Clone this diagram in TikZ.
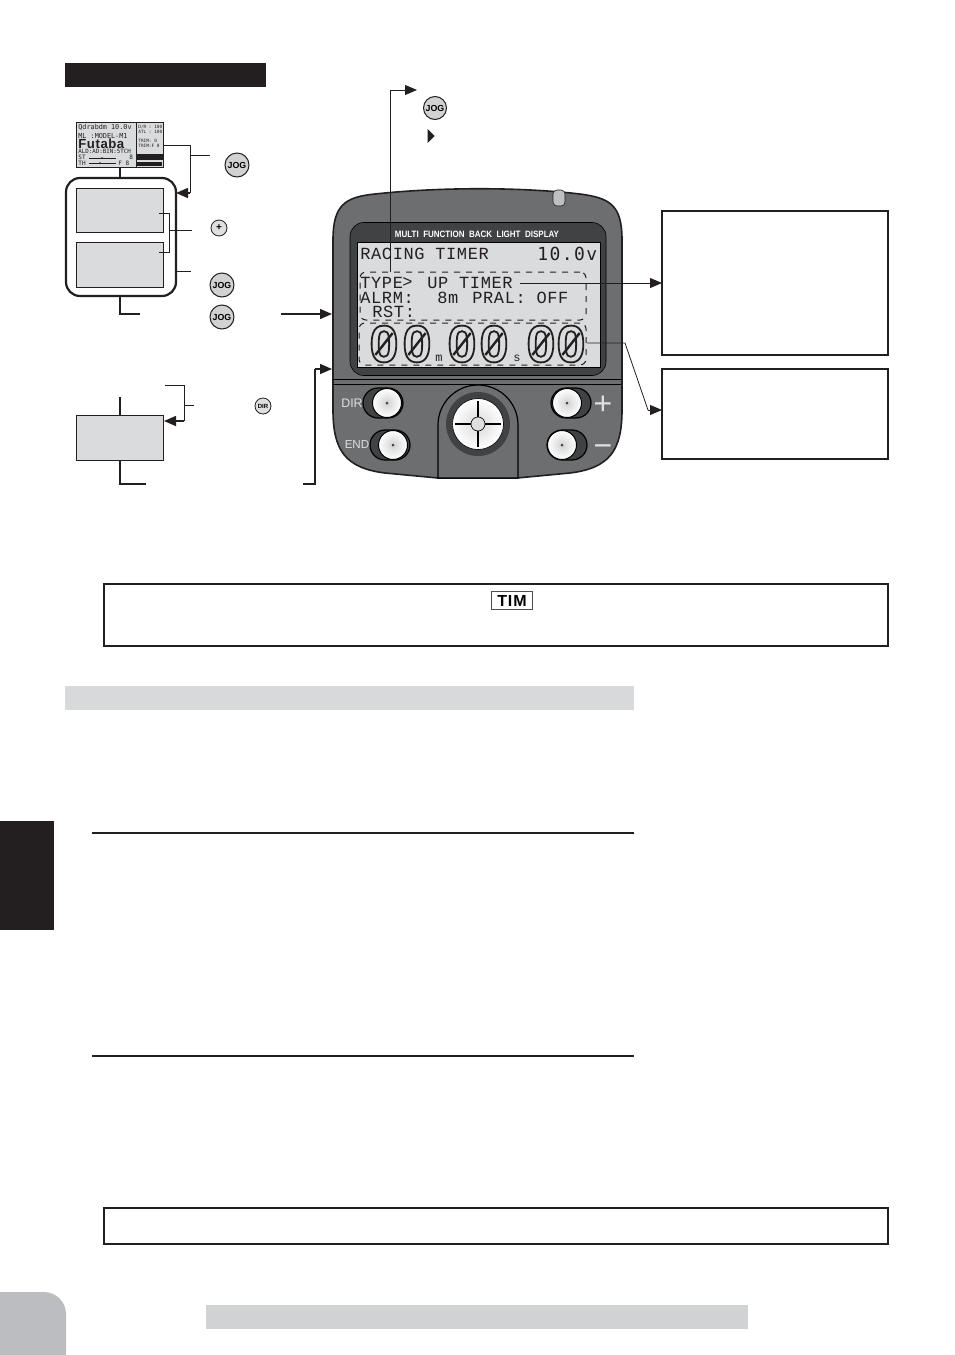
\documentclass[tikz,border=0pt]{standalone}
\usepackage{fontspec}
\setmainfont{Liberation Sans}
\newfontfamily\lcdfont[LetterSpace=3.5]{Liberation Mono}
\newfontfamily\microfont{DejaVu Sans Mono}
\newfontfamily\narrowfont[FakeStretch=0.87]{Liberation Sans}
\usetikzlibrary{arrows.meta, positioning, shapes, backgrounds}

\definecolor{bodygray}{HTML}{6D6E70}
\definecolor{bezelgray}{HTML}{414244}
\definecolor{screengray}{HTML}{DADBDC}
\definecolor{tabgray}{HTML}{BCBDC0}
\definecolor{bargray}{HTML}{D1D2D4}
\definecolor{inkblack}{HTML}{231F20}
\newcommand{\hollowtext}[1]{\special{pdf:code 1 Tr 0.9 w}#1\special{pdf:code 0 Tr 1 w}}

\begin{document}
\begin{tikzpicture}[
    x=0.5pt, y=-0.5pt,
    graybox/.style={rectangle, draw=inkblack, line width=0.4pt, fill=screengray, minimum width=43.5pt, minimum height=22.5pt, inner sep=0pt},
    jogbtn/.style={circle, draw=inkblack, line width=0.5pt, fill=gray!35, minimum size=12pt, inner sep=0pt, font=\fontsize{4.4}{5}\selectfont\bfseries},
    smallbtn/.style={circle, draw=inkblack, line width=0.4pt, fill=gray!25, minimum size=8pt, inner sep=0pt, font=\fontsize{3}{4}\selectfont\bfseries},
    notebox/.style={rectangle, draw=inkblack, line width=1.25pt, fill=white, inner sep=0pt},
    infobox/.style={rectangle, draw=inkblack, line width=1.25pt, fill=white, inner sep=0pt, minimum width=113pt},
    bar/.style={rectangle, fill=bargray, inner sep=0pt, minimum height=12pt},
    lcdtext/.style={anchor=west, inner sep=0pt, text=inkblack, font=\lcdfont\fontsize{8.5}{8.5}\selectfont},
    minitext/.style={anchor=west, inner sep=0pt, text=inkblack, font=\microfont\fontsize{3.4}{3.4}\selectfont},
    sidetext/.style={anchor=west, inner sep=0pt, text=inkblack, font=\microfont\fontsize{2.2}{2.2}\selectfont},
    bigdigit/.style={inner sep=0pt, text=inkblack, font=\fontsize{26}{26}\selectfont\bfseries},
    line/.style={draw=inkblack, line width=0.5pt},
    heavyline/.style={draw=inkblack, line width=0.8pt},
    ruleline/.style={draw=inkblack, line width=1pt},
    arrow/.style={draw=inkblack, line width=0.7pt, -{Triangle[length=6pt, width=5pt]}},
    keycap/.style={circle, draw=black, line width=0.5pt, inner color=gray!35, outer color=white, minimum size=14.5pt, inner sep=0pt},
    keyslot/.style={rounded corners=7.5pt, draw=black, line width=0.6pt, fill=bezelgray},
    crosshair/.style={black, line width=0.6pt, shorten >=1.5pt}
]
\useasboundingbox (0,0) rectangle (954,1355);

% ==== Page furniture ====
\node[rectangle, fill=inkblack, inner sep=0pt, minimum width=100.5pt, minimum height=12pt] (titlebar) at (165.5,75) {};
\node[bar, fill=bargray!85, minimum width=284.5pt] (sectionbar) at (349.5,698) {};
\node[bar, minimum width=271pt] (footbar) at (477,1317) {};
\node[rectangle, fill=inkblack, inner sep=0pt, minimum width=27pt, minimum height=54.5pt] (sidetab) at (27,875.5) {};
\fill[tabgray] (0,1292) -- (44,1292) arc[start angle=90, end angle=0, radius=11pt] -- (66,1355) -- (0,1355) -- cycle;
\node[notebox, minimum width=392pt, minimum height=31pt] (noteone) at (496,615) {};
\node[notebox, minimum width=392pt, minimum height=18pt] (notetwo) at (496,1226) {};
\node[rectangle, draw=inkblack!80, line width=0.7pt, fill=white, inner sep=0pt, minimum width=20.5pt, minimum height=9pt, font=\fontsize{8}{8}\selectfont\bfseries\addfontfeature{LetterSpace=6}] (timtag) at (512,600.5) {TIM};
\coordinate (ruleonel) at (92,832.5);
\coordinate (ruleoner) at (634,832.5);
\coordinate (ruletwol) at (92,1055.5);
\coordinate (ruletwor) at (634,1055.5);
\draw[ruleline] (ruleonel) -- (ruleoner);
\draw[ruleline] (ruletwol) -- (ruletwor);

% ==== Small screen at the top ====
\node[graybox, minimum height=22.5pt] (minilcd) at (120,144.5) {};
\node[minitext] (mininame) at (78,127) {Qdrabdm 10.0v};
\node[minitext] (minimodel) at (78,136) {ML :MODEL-M1};
\node[anchor=west, inner sep=0pt, text=inkblack, font=\fontsize{6.6}{6.6}\selectfont\bfseries\addfontfeature{LetterSpace=4}] (minilogo) at (78,144) {Futaba};
\node[minitext, font=\microfont\fontsize{2.9}{2.9}\selectfont] (minimode) at (78,151.5) {ALD:AD:BIN:5TCH};
\node[minitext, font=\microfont\fontsize{3}{3}\selectfont] (minist) at (78,157) {ST};
\node[minitext, font=\microfont\fontsize{3}{3}\selectfont] (minith) at (78,163) {TH};
\node[sidetext] (minidr) at (138,127) {D/R : 100};
\node[sidetext] (miniatl) at (138,132) {ATL : 100};
\node[sidetext] (minitrima) at (138,141) {TRIM:   0};
\node[sidetext] (minitrimb) at (138,146) {TRIM:F  0};
\draw[line, line width=0.3pt] (136,122) -- (136,167);
\fill[inkblack] (136,154) rectangle (163,160);
\fill[inkblack] (137,162) rectangle (162,166);
\draw[line, line width=0.3pt] (89,158) -- (116,158);
\draw[line, line width=0.3pt] (89,163) -- (116,163);
\fill[inkblack] (102,158) circle (1);
\fill[inkblack] (100,163) circle (1);
\node[minitext, font=\microfont\fontsize{3}{3}\selectfont] (minithetaa) at (129,157) {8};
\node[minitext, font=\microfont\fontsize{3}{3}\selectfont] (minithetab) at (118,163) {F 8};

% ==== Mode frame with two panels ====
\node[rectangle, draw=inkblack, line width=1.1pt, rounded corners=7pt, fill=white, minimum width=55pt, minimum height=59pt, inner sep=0pt] (modeframe) at (121,237) {};
\node[graybox, minimum height=22pt] (panelup) at (120,210) {};
\node[graybox, below=5pt of panelup] (paneldown) {};
\node[graybox] (panelalarm) at (120,437.5) {};

% ==== Buttons ====
\node[jogbtn] (jogtop) at (237,165) {JOG};
\node[smallbtn, font=\fontsize{5}{5}\selectfont\bfseries] (plusbtn) at (219,228) {+};
\node[jogbtn] (jogenter) at (222,285) {JOG};
\node[jogbtn] (jogback) at (222,317) {JOG};
\node[smallbtn] (dirbtn) at (263,406) {DIR};
\node[jogbtn, minimum size=11.5pt] (jogmode) at (435,108) {JOG};
\node[isosceles triangle, isosceles triangle stretches, fill=inkblack, inner sep=0pt, minimum height=3.5pt, minimum width=7pt, shape border rotate=0] (cursor) at (430.5,136) {};

% ==== Transmitter body ====
\filldraw[fill=bodygray, draw=inkblack, line width=0.8pt] (333,240) .. controls (333,205) and (345,197) .. (375,194) .. controls (440,187) and (520,187) .. (580,194) .. controls (610,198) and (622,205) .. (622,240) -- (622,410) .. controls (622,450) and (610,468) .. (570,473) -- (517,478) -- (438,478) -- (385,473) .. controls (345,468) and (333,450) .. (333,410) -- cycle;
\node[rectangle, rounded corners=2pt, draw=inkblack, line width=0.3pt, fill=gray!50, minimum width=6pt, minimum height=8pt, inner sep=0pt] (ledwindow) at (559,198) {};
\node[rectangle, rounded corners=7pt, fill=bezelgray, draw=black, line width=0.3pt, minimum width=128pt, minimum height=76.5pt, inner sep=0pt] (bezel) at (478,299) {};
\node[rectangle, fill=screengray, draw=black, line width=0.3pt, minimum width=121.5pt, minimum height=62.5pt, inner sep=0pt] (screen) at (478.5,304.5) {};
\node[inner sep=0pt, text=white, font=\narrowfont\fontsize{4.6}{5}\selectfont\bfseries] (bodytitle) at (477,234) {MULTI\ \ FUNCTION\ \ BACK\ \ LIGHT\ \ DISPLAY};
\coordinate (seaml) at (334,384.5);
\coordinate (seamr) at (621,384.5);
\coordinate (seamtopl) at (334,379);
\coordinate (seamtopr) at (621,379);
\draw[draw=black, line width=0.5pt] (seaml) -- (seamr);
\draw[draw=black, line width=0.3pt] (seamtopl) -- (seamtopr);

% ==== Screen texts ====
\node[lcdtext] (racingtitle) at (360,254) {RACING TIMER};
\node[lcdtext, font=\microfont\fontsize{9}{9}\selectfont\addfontfeature{LetterSpace=8}] (voltage) at (537,254) {10.0v};
\node[lcdtext] (typelabel) at (360,283) {TYPE};
\node[lcdtext] (typecursor) at (402,283) {>};
\node[lcdtext] (typevalue) at (427,283) {UP TIMER};
\node[lcdtext] (alarmlabel) at (360,298) {ALRM:};
\node[lcdtext] (alarmvalue) at (437,298) {8m};
\node[lcdtext] (pralvalue) at (472,298) {PRAL: OFF};
\node[lcdtext] (rstlabel) at (372,312) {RST:};
\node[rectangle, draw=inkblack, dashed, line width=0.5pt, rounded corners=3pt, minimum width=113pt, minimum height=24pt, inner sep=0pt] (setupzone) at (473,296) {};
\node[rectangle, draw=inkblack, dashed, line width=0.5pt, rounded corners=3pt, minimum width=113.5pt, minimum height=21pt, inner sep=0pt] (timezone) at (472.5,344) {};
\foreach \dx/\dname in {384/a, 417/b, 462/c, 494/d, 541/e, 571/f} {
    \node[bigdigit] (digit\dname) at (\dx,344) {\hollowtext{0}};
    \draw[inkblack, line width=1.2pt, shorten <=5pt, shorten >=5pt] (digit\dname.south west) -- (digit\dname.north east);
}
\node[inner sep=0pt, text=inkblack, font=\lcdfont\fontsize{6}{6}\selectfont] (minutemark) at (439,358) {m};
\node[inner sep=0pt, text=inkblack, font=\lcdfont\fontsize{6}{6}\selectfont] (secondmark) at (517,358) {s};

% ==== Keys on the body ====
\node[keyslot, minimum width=20pt, minimum height=15pt, inner sep=0pt] (dirslot) at (383,403) {};
\node[keyslot, minimum width=20pt, minimum height=15pt, inner sep=0pt] (endslot) at (390,445) {};
\node[keyslot, minimum width=20pt, minimum height=15pt, inner sep=0pt] (plusslot) at (571,403) {};
\node[keyslot, minimum width=20pt, minimum height=15pt, inner sep=0pt] (minusslot) at (567,445) {};
\node[keycap] (dirkey) at (387,403) {};
\node[keycap] (endkey) at (393,445) {};
\node[keycap] (pluskey) at (567,403) {};
\node[keycap] (minuskey) at (562,445) {};
\foreach \keyname in {dirkey, endkey, pluskey, minuskey}
    \fill[bezelgray] (\keyname) circle (1.5);
\node[inner sep=0pt, text=gray!25, font=\fontsize{6.2}{7}\selectfont] (dirlabel) at (352,403) {DIR};
\node[inner sep=0pt, text=gray!25, font=\fontsize{5.8}{7}\selectfont] (endlabel) at (357,445) {END};
\node[inner sep=0pt, text=gray!25, font=\fontsize{16}{16}\selectfont] (pluslabel) at (603,405) {+};
\node[inner sep=0pt, text=gray!25, font=\fontsize{16}{16}\selectfont] (minuslabel) at (603,451) {−};
% center pad
\filldraw[fill=bodygray, draw=black, line width=0.6pt] (438,478) -- (438,425) arc[start angle=180, end angle=0, radius=20pt] -- (518,478) -- cycle;
\node[circle, fill=bezelgray, inner sep=0pt, minimum size=32pt] (padring) at (478,424) {};
\node[circle, inner color=gray!30, outer color=white, draw=black, line width=0.3pt, inner sep=0pt, minimum size=25.5pt] (paddisc) at (478,424) {};
\node[circle, draw=black, line width=0.3pt, fill=gray!25, inner sep=0pt, minimum size=7pt] (padhub) at (478,424) {};
\draw[crosshair] (padhub) -- (paddisc.west);
\draw[crosshair] (padhub) -- (paddisc.east);
\draw[crosshair] (padhub) -- (paddisc.north);
\draw[crosshair] (padhub) -- (paddisc.south);

% ==== Info boxes on the right ====
\node[infobox, minimum height=72pt] (typeinfo) at (775,283) {};
\node[infobox, minimum height=45pt] (timeinfo) at (775,414) {};

% ==== Connector ends ====
\coordinate (minielbow) at (190,145);
\coordinate (ministart) at (163,145);
\coordinate (minidrop) at (190,193);
\coordinate (minibranch) at (190,155);
\coordinate (minilabel) at (210,155);
\coordinate (frameport) at (176,193);
\coordinate (upstart) at (159,213);
\coordinate (upelbow) at (169,213);
\coordinate (downstart) at (159,252);
\coordinate (downelbow) at (169,252);
\coordinate (panelbranch) at (169,230);
\coordinate (panellabel) at (192,230);
\coordinate (frameright) at (176,271);
\coordinate (framelabel) at (191,271);
\coordinate (frameout) at (120,296);
\coordinate (frameelbow) at (120,314);
\coordinate (framelabelb) at (140,314);
\coordinate (bodyarrowa) at (281,314);
\coordinate (bodyporta) at (332,314);
\coordinate (alarmin) at (120,397);
\coordinate (alarmtop) at (120,415);
\coordinate (alarmbottom) at (120,460);
\coordinate (alarmelbow) at (120,484);
\coordinate (alarmend) at (146,484);
\coordinate (dirfrom) at (165,385);
\coordinate (direlbow) at (184,385);
\coordinate (dirdrop) at (184,421);
\coordinate (dirport) at (164,421);
\coordinate (dirbranch) at (184,405);
\coordinate (dirlabelend) at (194,405);
\coordinate (returnstart) at (303,484);
\coordinate (returnelbow) at (315,484);
\coordinate (returnup) at (315,369);
\coordinate (bodyportb) at (332,369);
\coordinate (zonestart) at (390,272);
\coordinate (zoneup) at (390,90);
\coordinate (zonelabel) at (417,90);
\coordinate (typestart) at (520,283);
\coordinate (typeport) at (662,283);
\coordinate (timestart) at (587,343);
\coordinate (timeelbow) at (625,343);
\coordinate (timeslant) at (648,410);
\coordinate (timeport) at (662,410);

% ==== Arrows and lines ====
\draw[heavyline] (minilcd.south) -- (modeframe.north -| minilcd.south);
\draw[line] (ministart) -- (minielbow) -- (minidrop);
\draw[line] (minibranch) -- (minilabel);
\draw[arrow] (minidrop) -- (frameport);
\draw[line] (upstart) -- (upelbow) -- (downelbow) -- (downstart);
\draw[line] (panelbranch) -- (panellabel);
\draw[line] (frameright) -- (framelabel);
\draw[heavyline] (frameout) -- (frameelbow) -- (framelabelb);
\draw[arrow] (bodyarrowa) -- (bodyporta);
\draw[heavyline, line width=0.6pt] (alarmin) -- (alarmtop);
\draw[heavyline] (alarmbottom) -- (alarmelbow) -- (alarmend);
\draw[line] (dirfrom) -- (direlbow) -- (dirdrop);
\draw[line] (dirbranch) -- (dirlabelend);
\draw[arrow] (dirdrop) -- (dirport);
\draw[heavyline] (returnstart) -- (returnelbow) -- (returnup);
\draw[arrow] (returnup) -- (bodyportb);
\draw[line, line width=0.4pt] (zonestart) -- (zoneup);
\draw[arrow, line width=0.4pt] (zoneup) -- (zonelabel);
\draw[arrow, line width=0.4pt] (typestart) -- (typeport);
\draw[line, line width=0.4pt] (timestart) -- (timeelbow) -- (timeslant);
\draw[arrow, line width=0.4pt] (timeslant) -- (timeport);

\end{tikzpicture}
\end{document}
